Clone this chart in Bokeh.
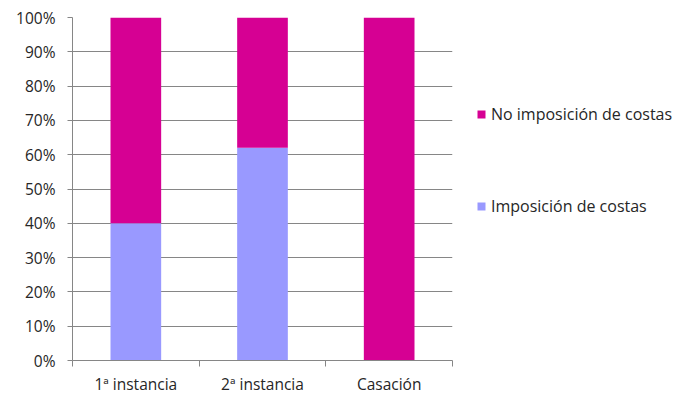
from bokeh.plotting import figure
from bokeh.models import FixedTicker, NumeralTickFormatter, Legend, LegendItem, Range1d, ColumnDataSource
from bokeh.embed import file_html
from bokeh.resources import INLINE

categories = ["1ª instancia", "2ª instancia", "Casación"]
imposicion = [0.40, 0.62, 0.0]
no_imposicion = [0.60, 0.38, 1.0]
series_names = ["Imposición de costas", "No imposición de costas"]
colors = ["#9999FF", "#D60093"]
y_ticks = [i / 10 for i in range(11)]

xs = [i + 0.5 for i in range(len(categories))]
src = ColumnDataSource(dict(x=xs, imp=imposicion, noimp=no_imposicion))

FONT = "Open Sans"
GRAY = "#868686"
TXT = "#262626"

p = figure(width=684, height=394, output_backend="svg", toolbar_location=None,
           x_range=Range1d(0, len(categories)), y_range=Range1d(0, 1),
           min_border_left=72, min_border_top=17, min_border_bottom=34,
           frame_width=380, frame_height=343)
p.outline_line_color = None

r = p.vbar_stack(["imp", "noimp"], x="x", width=0.4, source=src, color=colors, line_color=None)

# y axis
p.yaxis.ticker = FixedTicker(ticks=y_ticks, minor_ticks=[])
p.yaxis.formatter = NumeralTickFormatter(format="0%")
p.yaxis.axis_line_color = GRAY
p.yaxis.major_tick_line_color = GRAY
p.yaxis.major_tick_in = 0
p.yaxis.major_tick_out = 5
p.yaxis.major_label_standoff = 12
p.yaxis.major_label_text_font = FONT
p.yaxis.major_label_text_font_size = "15.5px"
p.yaxis.major_label_text_color = TXT

# x axis
p.xaxis.ticker = FixedTicker(ticks=xs, minor_ticks=list(range(len(categories) + 1)))
p.xaxis.major_label_overrides = {x: c for x, c in zip(xs, categories)}
p.xaxis.axis_line_color = GRAY
p.xaxis.major_tick_line_color = None
p.xaxis.major_tick_out = 0
p.xaxis.major_tick_in = 0
p.xaxis.minor_tick_line_color = GRAY
p.xaxis.minor_tick_out = 6
p.xaxis.minor_tick_in = 0
p.xaxis.major_label_standoff = 6
p.xaxis.major_label_text_font = FONT
p.xaxis.major_label_text_font_size = "15.5px"
p.xaxis.major_label_text_color = TXT

p.xgrid.grid_line_color = None
p.ygrid.grid_line_color = GRAY
p.ygrid.grid_line_width = 1

legend = Legend(items=[LegendItem(label=series_names[1], renderers=[r[1]]),
                       LegendItem(label=series_names[0], renderers=[r[0]])],
                location=(24, 143), spacing=70, glyph_width=10, glyph_height=10,
                label_text_font=FONT, label_text_font_size="16px", label_text_color=TXT,
                border_line_color=None, background_fill_alpha=0, padding=0, margin=0,
                label_standoff=5)
p.add_layout(legend, "right")

open("out.html", "w").write(file_html(p, INLINE))
